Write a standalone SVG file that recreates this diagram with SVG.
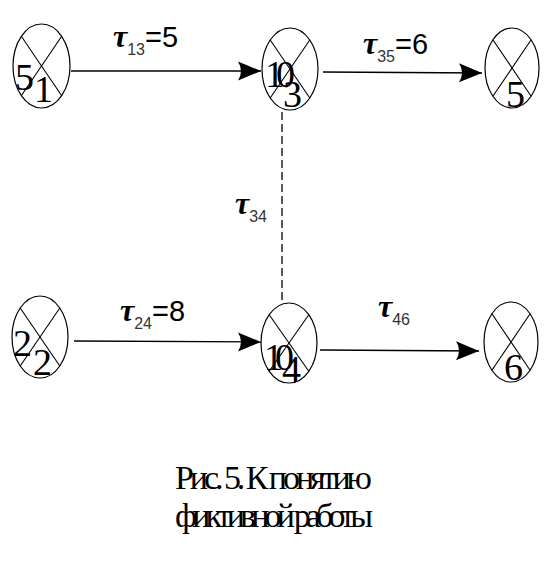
<svg xmlns="http://www.w3.org/2000/svg" width="544" height="576" viewBox="0 0 544 576">
<style>
.node ellipse{fill:#fff;stroke:#000;stroke-width:1.2}
.node line{stroke:#000;stroke-width:1.1}
.num{font-family:"Liberation Serif",serif;font-size:38px;fill:#000}
.tau{font-family:"Liberation Serif",serif;font-style:italic;font-weight:bold;font-size:32px;fill:#000}
.sub{font-family:"Liberation Sans",sans-serif;font-size:16px;fill:#333}
.eq{font-family:"Liberation Sans",sans-serif;font-size:29px;fill:#000}
.arc{stroke:#000;stroke-width:1.3;fill:none}
.cap{font-family:"Liberation Serif",serif;font-size:34px;fill:#000}
</style>
<defs>
<marker id="ah" markerUnits="userSpaceOnUse" markerWidth="30" markerHeight="24" viewBox="-24 -12 26 24" refX="0" refY="0" orient="auto">
<path d="M0,0 L-23,-9.5 Q-17,0 -23,9.5 Z" fill="#000"/>
</marker>
</defs>
<rect width="544" height="576" fill="#fff"/>
<g id="connectors">
<line class="arc" x1="71" y1="71" x2="261" y2="71" marker-end="url(#ah)"/>
<line class="arc" x1="323" y1="72" x2="482" y2="73" marker-end="url(#ah)"/>
<line class="arc" x1="74" y1="341" x2="261" y2="342" marker-end="url(#ah)"/>
<line class="arc" x1="320" y1="350" x2="479" y2="351" marker-end="url(#ah)"/>
<line class="arc" x1="282" y1="112" x2="282" y2="303" stroke-dasharray="8,4" stroke-width="1"/>
<text x="113" y="47"><tspan class="tau">τ</tspan><tspan class="sub" dy="8">13</tspan><tspan class="eq" dy="-8">=5</tspan></text>
<text x="363" y="54"><tspan class="tau">τ</tspan><tspan class="sub" dy="8">35</tspan><tspan class="eq" dy="-8">=6</tspan></text>
<text x="120" y="321"><tspan class="tau">τ</tspan><tspan class="sub" dy="8">24</tspan><tspan class="eq" dy="-8">=8</tspan></text>
<text x="378" y="317"><tspan class="tau">τ</tspan><tspan class="sub" dy="8">46</tspan></text>
<text x="235" y="214"><tspan class="tau">τ</tspan><tspan class="sub" dy="8">34</tspan></text>
</g>
<g id="node1" class="node">
<ellipse cx="41.5" cy="66" rx="28.5" ry="42"/>
<line x1="21.3" y1="36.3" x2="61.7" y2="95.7"/><line x1="61.7" y1="36.3" x2="21.3" y2="95.7"/>
<text class="num" x="15" y="90">5</text><text class="num" x="34" y="102">1</text>
</g>
<g id="node3" class="node">
<ellipse cx="290" cy="69" rx="28" ry="41"/>
<line x1="270.2" y1="40" x2="309.8" y2="98"/><line x1="309.8" y1="40" x2="270.2" y2="98"/>
<text class="num" x="265" y="87" letter-spacing="-8">10</text><text class="num" x="283" y="107">3</text>
</g>
<g id="node5" class="node">
<ellipse cx="512" cy="68" rx="27" ry="40"/>
<line x1="492.9" y1="39.7" x2="531.1" y2="96.3"/><line x1="531.1" y1="39.7" x2="492.9" y2="96.3"/>
<text class="num" x="506" y="107">5</text>
</g>
<g id="node2" class="node">
<ellipse cx="40" cy="337" rx="28" ry="41"/>
<line x1="20.2" y1="308" x2="59.8" y2="366"/><line x1="59.8" y1="308" x2="20.2" y2="366"/>
<text class="num" x="13" y="356">2</text><text class="num" x="33" y="375">2</text>
</g>
<g id="node4" class="node">
<ellipse cx="289" cy="343" rx="28" ry="40"/>
<line x1="269.2" y1="314.7" x2="308.8" y2="371.3"/><line x1="308.8" y1="314.7" x2="269.2" y2="371.3"/>
<text class="num" x="264" y="370" letter-spacing="-8">10</text><text class="num" x="282" y="382">4</text>
</g>
<g id="node6" class="node">
<ellipse cx="511" cy="342" rx="27" ry="40"/>
<line x1="491.9" y1="313.7" x2="530.1" y2="370.3"/><line x1="530.1" y1="313.7" x2="491.9" y2="370.3"/>
<text class="num" x="504" y="380">6</text>
</g>
<text class="cap" x="175" y="489" textLength="197" lengthAdjust="spacing">Рис. 5. К понятию</text>
<text class="cap" x="175" y="527" textLength="198" lengthAdjust="spacing">фиктивной работы</text>
</svg>
